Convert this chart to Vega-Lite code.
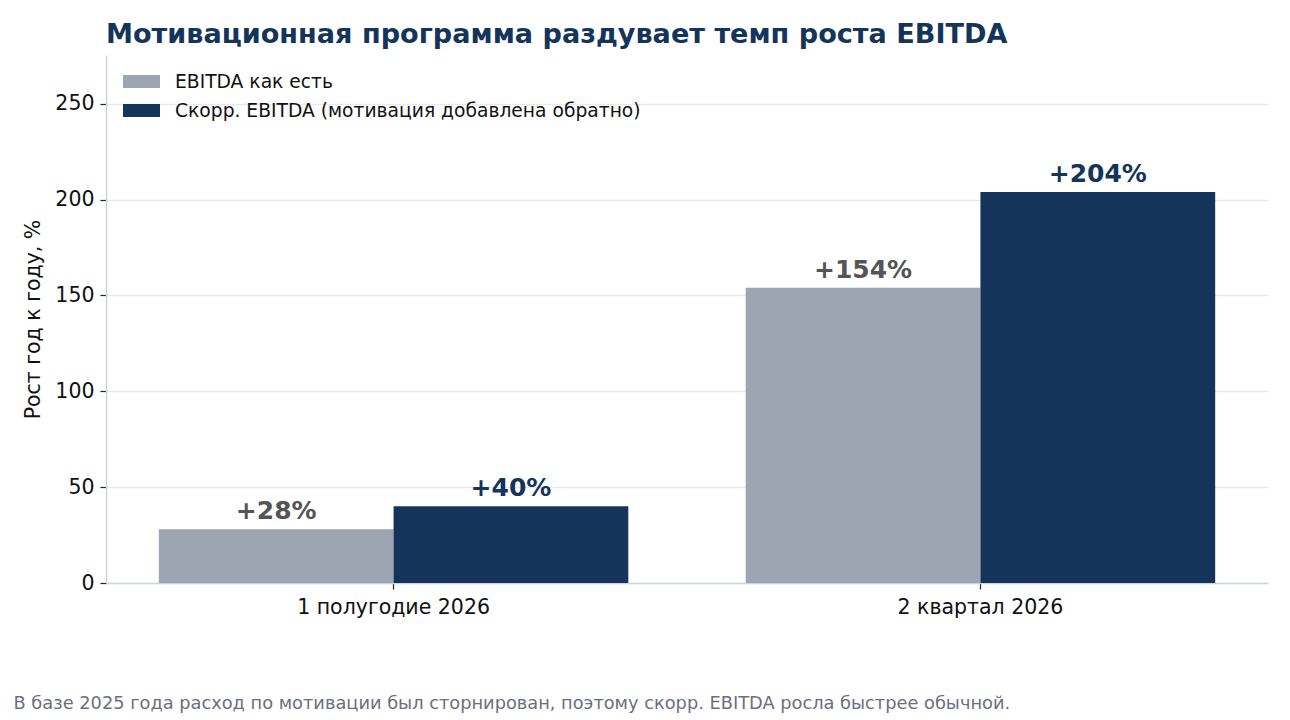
{
  "$schema": "https://vega.github.io/schema/vega-lite/v6.json",
  "width": 1162,
  "height": 528,
  "autosize": {"type": "none"},
  "padding": {"left": 106, "top": 55, "right": 22, "bottom": 137},
  "background": "white",
  "config": {
    "font": "DejaVu Sans",
    "view": {"stroke": null}
  },
  "title": {
    "text": "Мотивационная программа раздувает темп роста EBITDA",
    "anchor": "start",
    "frame": "group",
    "font": "DejaVu Sans",
    "fontSize": 27.1,
    "fontWeight": "bold",
    "color": "#14345a",
    "offset": 6
  },
  "data": {
    "values": [
      {"period": "1 полугодие 2026", "series": "EBITDA как есть", "value": 28, "label": "+28%"},
      {"period": "1 полугодие 2026", "series": "Скорр. EBITDA (мотивация добавлена обратно)", "value": 40, "label": "+40%"},
      {"period": "2 квартал 2026", "series": "EBITDA как есть", "value": 154, "label": "+154%"},
      {"period": "2 квартал 2026", "series": "Скорр. EBITDA (мотивация добавлена обратно)", "value": 204, "label": "+204%"}
    ]
  },
  "layer": [
    {
      "mark": {"type": "bar"},
      "encoding": {
        "x": {
          "field": "period",
          "type": "nominal",
          "sort": null,
          "scale": {"paddingInner": 0.2, "paddingOuter": 0.09},
          "axis": {
            "labelAngle": 0,
            "labelFontSize": 20.5,
            "labelColor": "#111111",
            "labelPadding": 8,
            "labelLimit": 0,
            "domainColor": "#d0d5dd",
            "domainWidth": 1.5,
            "tickColor": "#222222",
            "tickSize": 6,
            "tickWidth": 1.2,
            "grid": false,
            "title": "В базе 2025 года расход по мотивации был сторнирован, поэтому скорр. EBITDA росла быстрее обычной.",
            "titleX": -93,
            "titleY": 120,
            "titleAlign": "left",
            "titleBaseline": "middle",
            "titleFontSize": 17.8,
            "titleFontWeight": "normal",
            "titleColor": "#6b6f80",
            "titleLimit": 0
          }
        },
        "xOffset": {
          "field": "series",
          "type": "nominal",
          "sort": null,
          "scale": {"paddingInner": 0, "paddingOuter": 0}
        },
        "y": {
          "field": "value",
          "type": "quantitative",
          "scale": {"domain": [0, 275.4], "nice": false},
          "axis": {
            "values": [0, 50, 100, 150, 200, 250],
            "grid": true,
            "gridColor": "#e6eaef",
            "gridWidth": 1.5,
            "domainColor": "#d0d5dd",
            "domainWidth": 1.5,
            "tickColor": "#222222",
            "tickSize": 6,
            "tickWidth": 1.2,
            "labelFontSize": 20.5,
            "labelColor": "#111111",
            "labelPadding": 6,
            "title": "Рост год к году, %",
            "titleFontSize": 20.5,
            "titleFontWeight": "normal",
            "titleColor": "#111111",
            "titlePadding": 11
          }
        },
        "color": {
          "field": "series",
          "type": "nominal",
          "sort": null,
          "scale": {
            "domain": ["EBITDA как есть", "Скорр. EBITDA (мотивация добавлена обратно)"],
            "range": ["#9ca5b1", "#14345a"]
          },
          "legend": {
            "orient": "none",
            "legendX": 17,
            "legendY": 8,
            "title": null,
            "padding": 0,
            "symbolType": "M-1,-0.35L1,-0.35L1,0.35L-1,0.35Z",
            "symbolSize": 1369,
            "symbolStrokeWidth": 0,
            "labelFontSize": 18.7,
            "labelColor": "#111111",
            "labelOffset": 15,
            "labelLimit": 0,
            "rowPadding": -7
          }
        }
      }
    },
    {
      "mark": {"type": "text", "baseline": "alphabetic", "dy": -10, "fontSize": 25, "fontWeight": "bold", "font": "DejaVu Sans"},
      "encoding": {
        "x": {"field": "period", "type": "nominal", "sort": null},
        "xOffset": {"field": "series", "type": "nominal", "sort": null},
        "y": {"field": "value", "type": "quantitative"},
        "text": {"field": "label"},
        "fill": {
          "field": "series",
          "type": "nominal",
          "sort": null,
          "scale": {
            "domain": ["EBITDA как есть", "Скорр. EBITDA (мотивация добавлена обратно)"],
            "range": ["#555555", "#14345a"]
          },
          "legend": null
        }
      }
    }
  ]
}
